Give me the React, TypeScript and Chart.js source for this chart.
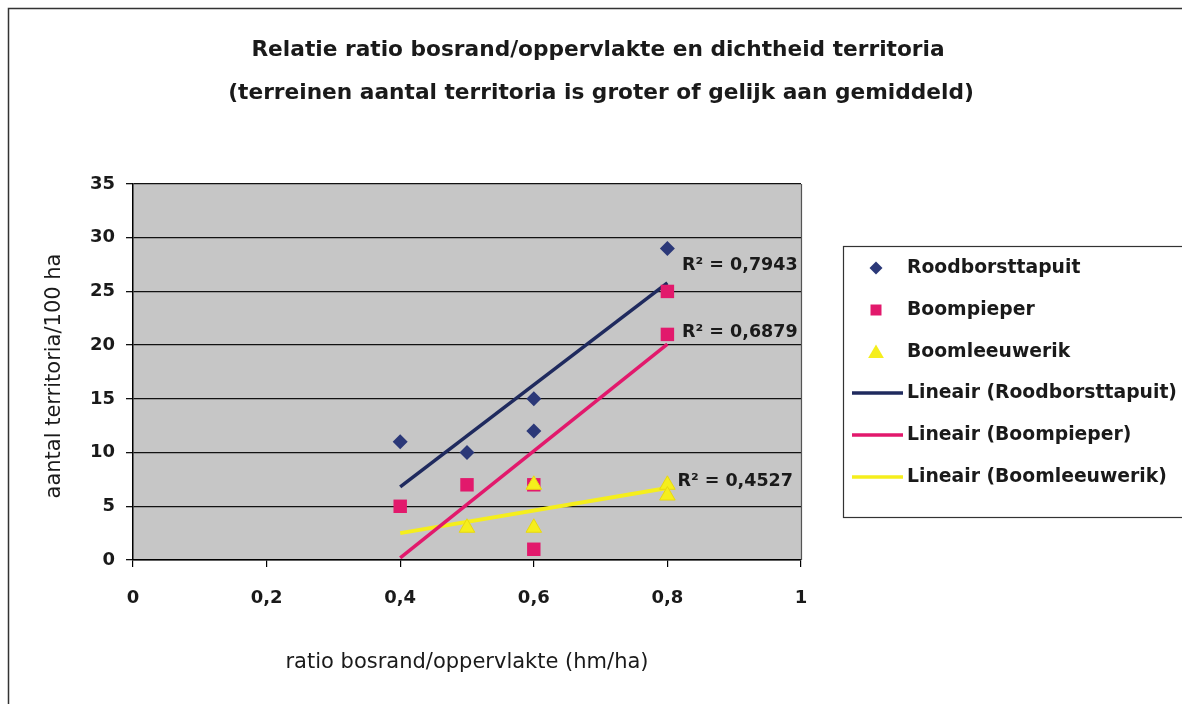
import React, { useEffect, useRef } from "react";
import { Chart, registerables } from "chart.js";

Chart.register(...registerables);

// ---- data ----
const titleLines = [
  "Relatie ratio bosrand/oppervlakte en dichtheid territoria",
  "(terreinen aantal territoria is groter of gelijk aan gemiddeld)",
];
const xAxisTitle = "ratio bosrand/oppervlakte (hm/ha)";
const yAxisTitle = "aantal territoria/100 ha";

const seriesNames = ["Roodborsttapuit", "Boompieper", "Boomleeuwerik"];
const trendNames = [
  "Lineair (Roodborsttapuit)",
  "Lineair (Boompieper)",
  "Lineair (Boomleeuwerik)",
];

const roodX = [0.4, 0.5, 0.6, 0.6, 0.8];
const roodY = [11, 10, 15, 12, 29];
const piepX = [0.4, 0.5, 0.6, 0.6, 0.8, 0.8];
const piepY = [5, 7, 7, 1, 25, 21];
const leeuwX = [0.5, 0.6, 0.6, 0.8, 0.8];
const leeuwY = [3, 7, 3, 7, 6];

const trendX = [0.4, 0.8];
const roodTrend = [6.8, 25.8];
const piepTrend = [0.2, 20.1];
const leeuwTrend = [2.5, 6.7];

const r2Labels = ["R² = 0,7943", "R² = 0,6879", "R² = 0,4527"];
const r2AtX = [0.822, 0.822, 0.815];
const r2AtY = [27.4, 21.2, 7.3];

const xTicks = [0, 0.2, 0.4, 0.6, 0.8, 1];
const yTicks = [0, 5, 10, 15, 20, 25, 30, 35];

// ---- styles ----
const NAVY = "#2b3878";
const NAVY_LINE = "#1f2a5e";
const PINK = "#e2196c";
const YELLOW = "#f5ee1c";
const PLOT_BG = "#c6c6c6";
const FONT = '"DejaVu Sans", Verdana, sans-serif';

const pts = (xs: number[], ys: number[]) => xs.map((x, i) => ({ x, y: ys[i] }));

function drawMarker(ctx: CanvasRenderingContext2D, kind: string, x: number, y: number, s: number, color: string) {
  ctx.save();
  ctx.fillStyle = color;
  ctx.beginPath();
  if (kind === "diamond") {
    ctx.moveTo(x, y - s);
    ctx.lineTo(x + s, y);
    ctx.lineTo(x, y + s);
    ctx.lineTo(x - s, y);
  } else if (kind === "square") {
    ctx.rect(x - s, y - s, 2 * s, 2 * s);
  } else {
    ctx.moveTo(x, y - s);
    ctx.lineTo(x + s * 1.05, y + s * 0.8);
    ctx.lineTo(x - s * 1.05, y + s * 0.8);
  }
  ctx.closePath();
  ctx.fill();
  ctx.restore();
}

const decorPlugin = {
  id: "decor",
  beforeDraw(chart: any) {
    const { ctx, chartArea } = chart;
    ctx.save();
    ctx.fillStyle = "#ffffff";
    ctx.fillRect(0, 0, chart.width, chart.height);
    ctx.fillStyle = PLOT_BG;
    ctx.fillRect(chartArea.left, chartArea.top, chartArea.right - chartArea.left, chartArea.bottom - chartArea.top);
    ctx.restore();
  },
  afterDraw(chart: any) {
    const { ctx, chartArea, scales } = chart;
    ctx.save();
    // outer frame (left + top visible)
    ctx.strokeStyle = "#333";
    ctx.lineWidth = 1.5;
    ctx.beginPath();
    ctx.moveTo(8.5, chart.height);
    ctx.lineTo(8.5, 8.5);
    ctx.lineTo(chart.width, 8.5);
    ctx.stroke();

    // plot right border
    ctx.strokeStyle = "#555";
    ctx.lineWidth = 1.2;
    ctx.beginPath();
    ctx.moveTo(chartArea.right + 0.5, chartArea.top);
    ctx.lineTo(chartArea.right + 0.5, chartArea.bottom);
    ctx.stroke();

    // title
    ctx.fillStyle = "#1a1a1a";
    ctx.textAlign = "center";
    ctx.textBaseline = "middle";
    ctx.font = `bold 21.7px ${FONT}`;
    ctx.fillText(titleLines[0], 598, 50);
    ctx.fillText(titleLines[1], 601, 93);

    // axis titles
    ctx.font = `21px ${FONT}`;
    ctx.fillText(xAxisTitle, (chartArea.left + chartArea.right) / 2, 663);
    ctx.save();
    ctx.translate(55, (chartArea.top + chartArea.bottom) / 2 + 4);
    ctx.rotate(-Math.PI / 2);
    ctx.fillText(yAxisTitle, 0, 0);
    ctx.restore();

    // R² labels
    ctx.font = `bold 17.5px ${FONT}`;
    ctx.textAlign = "left";
    for (let i = 0; i < r2Labels.length; i++) {
      ctx.fillText(r2Labels[i], scales.x.getPixelForValue(r2AtX[i]), scales.y.getPixelForValue(r2AtY[i]));
    }

    // legend
    const lx = 843.5, ly = 246.5, lw = 360, lh = 271;
    ctx.strokeStyle = "#333";
    ctx.lineWidth = 1.2;
    ctx.strokeRect(lx, ly, lw, lh);
    const rowY = [268, 310, 352, 393, 435, 477];
    const markers = [
      ["diamond", NAVY, 6.5],
      ["square", PINK, 5.5],
      ["triangle", YELLOW, 7.5],
    ] as const;
    ctx.font = `bold 18.8px ${FONT}`;
    ctx.fillStyle = "#1a1a1a";
    for (let i = 0; i < 3; i++) {
      drawMarker(ctx, markers[i][0], 876, rowY[i], markers[i][2], markers[i][1]);
      ctx.fillStyle = "#1a1a1a";
      ctx.fillText(seriesNames[i], 907, rowY[i]);
    }
    const lineCols = [NAVY_LINE, PINK, YELLOW];
    for (let i = 0; i < 3; i++) {
      const y = rowY[i + 3];
      ctx.strokeStyle = lineCols[i];
      ctx.lineWidth = 3.5;
      ctx.beginPath();
      ctx.moveTo(852, y);
      ctx.lineTo(903, y);
      ctx.stroke();
      ctx.fillStyle = "#1a1a1a";
      ctx.fillText(trendNames[i], 907, y);
    }
    ctx.restore();
  },
};

export default function App() {
  const ref = useRef<HTMLCanvasElement>(null);
  useEffect(() => {
    const chart = new Chart(ref.current!, {
      type: "scatter",
      data: {
        datasets: [
          {
            label: seriesNames[2],
            data: pts(leeuwX, leeuwY),
            pointStyle: "triangle",
            pointRadius: 9,
            backgroundColor: YELLOW,
            borderColor: "#e8d810",
            borderWidth: 1,
            order: 1,
          },
          {
            label: seriesNames[1],
            data: pts(piepX, piepY),
            pointStyle: "rect",
            pointRadius: 9.5,
            backgroundColor: PINK,
            borderColor: PINK,
            borderWidth: 0,
            order: 2,
          },
          {
            label: seriesNames[0],
            data: pts(roodX, roodY),
            pointStyle: "rectRot",
            pointRadius: 7.5,
            backgroundColor: NAVY,
            borderColor: NAVY,
            borderWidth: 0,
            order: 3,
          },
          {
            type: "line",
            label: trendNames[0],
            data: pts(trendX, roodTrend),
            borderColor: NAVY_LINE,
            borderWidth: 3.5,
            pointRadius: 0,
            showLine: true,
            order: 4,
          },
          {
            type: "line",
            label: trendNames[1],
            data: pts(trendX, piepTrend),
            borderColor: PINK,
            borderWidth: 3.5,
            pointRadius: 0,
            showLine: true,
            order: 5,
          },
          {
            type: "line",
            label: trendNames[2],
            data: pts(trendX, leeuwTrend),
            borderColor: YELLOW,
            borderWidth: 4,
            pointRadius: 0,
            showLine: true,
            order: 6,
          },
        ] as any,
      },
      options: {
        responsive: false,
        animation: false,
        devicePixelRatio: 1,
        layout: { padding: { left: 0, right: 381, top: 184, bottom: 0 } },
        plugins: {
          legend: { display: false },
          title: { display: false },
          tooltip: { enabled: false },
        },
        scales: {
          x: {
            type: "linear",
            min: 0,
            max: 1,
            afterBuildTicks: (s: any) => {
              s.ticks = xTicks.map((v) => ({ value: v }));
            },
            afterFit: (s: any) => {
              s.height = 144;
            },
            ticks: {
              callback: (v: any) => String(v).replace(".", ","),
              font: { family: FONT, size: 18, weight: "bold" },
              color: "#1a1a1a",
              padding: 21,
              maxRotation: 0,
            },
            grid: { drawOnChartArea: false, drawTicks: true, tickLength: 7, color: "#000", lineWidth: 1.2 },
            border: { display: true, color: "#000", width: 1.5 },
          },
          y: {
            type: "linear",
            min: 0,
            max: 35,
            afterBuildTicks: (s: any) => {
              s.ticks = yTicks.map((v) => ({ value: v }));
            },
            afterFit: (s: any) => {
              s.width = 133;
            },
            ticks: {
              font: { family: FONT, size: 18, weight: "bold" },
              color: "#1a1a1a",
              padding: 11,
            },
            grid: { drawTicks: true, tickLength: 7, color: "#111", lineWidth: 1.3 },
            border: { display: true, color: "#000", width: 1.5 },
          },
        },
      } as any,
      plugins: [decorPlugin],
    });
    return () => chart.destroy();
  }, []);
  return (
    <div style={{ position: "absolute", left: 0, top: 0, width: 1182, height: 704, background: "#fff" }}>
      <canvas ref={ref} width={1182} height={704} style={{ display: "block", width: 1182, height: 704 }} />
    </div>
  );
}
